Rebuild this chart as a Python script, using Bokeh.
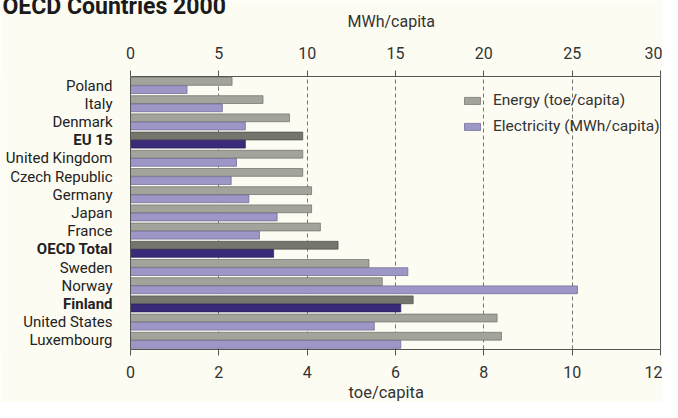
from bokeh.plotting import figure
from bokeh.models import (Range1d, LinearAxis, FixedTicker, FactorRange, ColumnDataSource,
                          Legend, LegendItem, Span, Title)
from bokeh.transform import dodge
from bokeh.core.properties import value
from bokeh.embed import file_html
from bokeh.resources import INLINE

# ---------------- data ----------------
countries = ["Poland", "Italy", "Denmark", "EU 15", "United Kingdom", "Czech Republic",
             "Germany", "Japan", "France", "OECD Total", "Sweden", "Norway", "Finland",
             "United States", "Luxembourg"]
energy_toe = [2.3, 3.0, 3.6, 3.9, 3.9, 3.9, 4.1, 4.1, 4.3, 4.7, 5.4, 5.7, 6.4, 8.3, 8.4]
electricity_mwh = [3.2, 5.2, 6.5, 6.5, 6.0, 5.7, 6.7, 8.3, 7.3, 8.1, 15.7, 25.3, 15.3, 13.8, 15.3]
highlighted = ["EU 15", "OECD Total", "Finland"]
toe_ticks = [0, 2, 4, 6, 8, 10, 12]
mwh_ticks = [0, 5, 10, 15, 20, 25, 30]
title_text = "OECD Countries 2000"
energy_label = "Energy (toe/capita)"
elec_label = "Electricity (MWh/capita)"
top_axis_title = "MWh/capita"
bottom_axis_title = "toe/capita"

# ---------------- layout / style ----------------
FONT = "Roboto"
BG = "#fdfcf2"
AX = "#555555"
W, H = 662, 402
LEFT_PX, RIGHT_PX = 130, 2          # room for category labels / right margin inside the frame
TOP_PX, BOTTOM_PX = 74, 51

toe_max, mwh_max = toe_ticks[-1], mwh_ticks[-1]
ppu = (W - LEFT_PX - RIGHT_PX) / toe_max
toe_range = Range1d(-LEFT_PX / ppu, toe_max + RIGHT_PX / ppu)
k = mwh_max / toe_max
mwh_range = Range1d(toe_range.start * k, toe_range.end * k)


def subset(flag):
    idx = [i for i, c in enumerate(countries) if (c in highlighted) == flag]
    return ColumnDataSource(dict(
        country=[countries[i] for i in idx],
        energy=[energy_toe[i] for i in idx],
        elec=[electricity_mwh[i] for i in idx],
    ))


src_n = subset(False)
src_h = subset(True)

p = figure(width=W, height=H, x_range=toe_range,
           y_range=FactorRange(factors=list(reversed(countries))),
           output_backend="svg", toolbar_location=None, y_axis_location=None,
           min_border_left=0, min_border_right=0,
           min_border_top=TOP_PX, min_border_bottom=BOTTOM_PX)
p.extra_x_ranges = {"elec": mwh_range}
p.background_fill_color = BG
p.border_fill_color = BG
p.outline_line_color = None

top = LinearAxis(x_range_name="elec", ticker=FixedTicker(ticks=mwh_ticks),
                 bounds=(mwh_ticks[0], mwh_max))
p.add_layout(top, "above")
bottom = p.below[0]
bottom.ticker = FixedTicker(ticks=toe_ticks)
bottom.bounds = (toe_ticks[0], toe_max)

for ax in (top, bottom):
    ax.axis_line_color = AX
    ax.major_tick_line_color = AX
    ax.major_tick_out = 6
    ax.major_tick_in = 0
    ax.minor_tick_line_color = None
    ax.major_label_text_font = FONT
    ax.major_label_text_font_size = "16px"
    ax.major_label_text_color = "#333333"
top.major_label_standoff = 12
bottom.major_label_standoff = 10

p.xgrid.grid_line_color = "#666666"
p.xgrid.grid_line_dash = "4 3"
p.xgrid.grid_line_width = 0.9
p.ygrid.grid_line_color = None

# frame sides at 0 and at the right end of the scales
p.add_layout(Span(location=toe_ticks[0], dimension="height", line_color=AX, line_width=1))
p.add_layout(Span(location=toe_max, dimension="height", line_color=AX, line_width=1))

E_OFF, L_OFF, BH = 0.23, -0.22, 0.43

r_en = p.hbar(y=dodge("country", E_OFF, range=p.y_range), left=0, right="energy", height=BH,
              source=src_n, fill_color="#a2a39b", line_color="#6e6f69", line_width=0.7)
r_eh = p.hbar(y=dodge("country", E_OFF, range=p.y_range), left=0, right="energy", height=BH,
              source=src_h, fill_color="#74756d", line_color="#4e4f4a", line_width=0.7)
r_ln = p.hbar(y=dodge("country", L_OFF, range=p.y_range), left=0, right="elec", height=BH,
              source=src_n, x_range_name="elec",
              fill_color="#9d97c7", line_color="#6a6590", line_width=0.7)
r_lh = p.hbar(y=dodge("country", L_OFF, range=p.y_range), left=0, right="elec", height=BH,
              source=src_h, x_range_name="elec",
              fill_color="#3b2a7a", line_color="#2a1d5a", line_width=0.7)

# category labels (bold for aggregates / Finland)
lab_src = ColumnDataSource(dict(
    country=countries,
    style=["bold" if c in highlighted else "normal" for c in countries],
))
p.text(x=0, y="country", text="country", source=lab_src, x_offset=-18,
       text_align="right", text_baseline="middle",
       text_font=value(FONT), text_font_size=value("15px"),
       text_font_style="style", text_color="#222222")

legend = Legend(items=[LegendItem(label=energy_label, renderers=[r_en]),
                       LegendItem(label=elec_label, renderers=[r_ln])],
                location=(462, 214), glyph_width=20, glyph_height=9,
                label_standoff=11, spacing=8, padding=0, margin=0,
                background_fill_alpha=0, border_line_alpha=0,
                label_text_font=FONT, label_text_font_size="15.5px",
                label_text_color="#333333")
p.add_layout(legend)

# axis titles and (partly cut) chart title
p.add_layout(Title(text=top_axis_title, align="left", offset=347, vertical_align="top",
                   standoff=22, text_font=FONT, text_font_size="16px",
                   text_font_style="normal", text_color="#333333"), "above")
p.add_layout(Title(text=title_text, align="left", offset=2, vertical_align="bottom",
                   standoff=-39, text_font=FONT, text_font_size="23px",
                   text_font_style="bold", text_color="#1a1a1a"), "above")
p.add_layout(Title(text=bottom_axis_title, align="left", offset=348, vertical_align="bottom",
                   standoff=1, text_font=FONT, text_font_size="16.5px",
                   text_font_style="normal", text_color="#333333"), "below")

open("out.html", "w").write(file_html(p, INLINE))
